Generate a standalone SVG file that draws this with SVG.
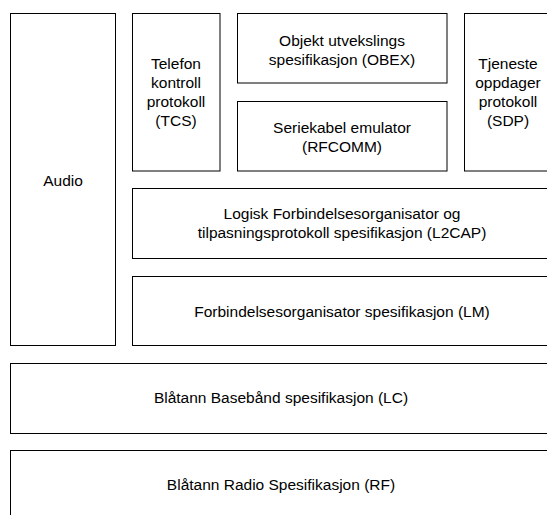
<svg xmlns="http://www.w3.org/2000/svg" width="547" height="515" viewBox="0 0 547 515">
<style>
rect{fill:#fff;stroke:#000;stroke-width:1}
text{font-family:"Liberation Sans",Arial,sans-serif;font-size:15.5px;fill:#000;text-anchor:middle}
</style>
<rect x="0" y="0" width="547" height="515" style="stroke:none"/>
<g id="audio"><rect x="10.5" y="13.5" width="105" height="332"/><text x="63" y="186">Audio</text></g>
<g id="tcs"><rect x="132.5" y="13.5" width="87.5" height="157.5"/>
<text x="176" y="69">Telefon</text><text x="176" y="88">kontroll</text><text x="176" y="107">protokoll</text><text x="176" y="126">(TCS)</text></g>
<g id="obex"><rect x="237.5" y="13.5" width="209.5" height="69.5"/>
<text x="342" y="46">Objekt utvekslings</text><text x="342" y="65">spesifikasjon (OBEX)</text></g>
<g id="rfcomm"><rect x="237.5" y="101.5" width="209.5" height="69.5"/>
<text x="342" y="133">Seriekabel emulator</text><text x="342" y="152">(RFCOMM)</text></g>
<g id="sdp"><rect x="464.5" y="13.5" width="87.5" height="157.5"/>
<text x="508" y="69">Tjeneste</text><text x="508" y="88">oppdager</text><text x="508" y="107">protokoll</text><text x="508" y="126">(SDP)</text></g>
<g id="l2cap"><rect x="132.5" y="188.5" width="430" height="70"/>
<text x="342" y="219">Logisk Forbindelsesorganisator og</text><text x="342" y="238">tilpasningsprotokoll spesifikasjon (L2CAP)</text></g>
<g id="lm"><rect x="132.5" y="276.5" width="430" height="69"/>
<text x="342" y="317">Forbindelsesorganisator spesifikasjon (LM)</text></g>
<g id="lc"><rect x="10.5" y="363.5" width="560" height="70"/>
<text x="281" y="403">Blåtann Basebånd spesifikasjon (LC)</text></g>
<g id="rf"><rect x="10.5" y="450.5" width="560" height="80"/>
<text x="281" y="490">Blåtann Radio Spesifikasjon (RF)</text></g>
<g id="connectors"/>
</svg>
